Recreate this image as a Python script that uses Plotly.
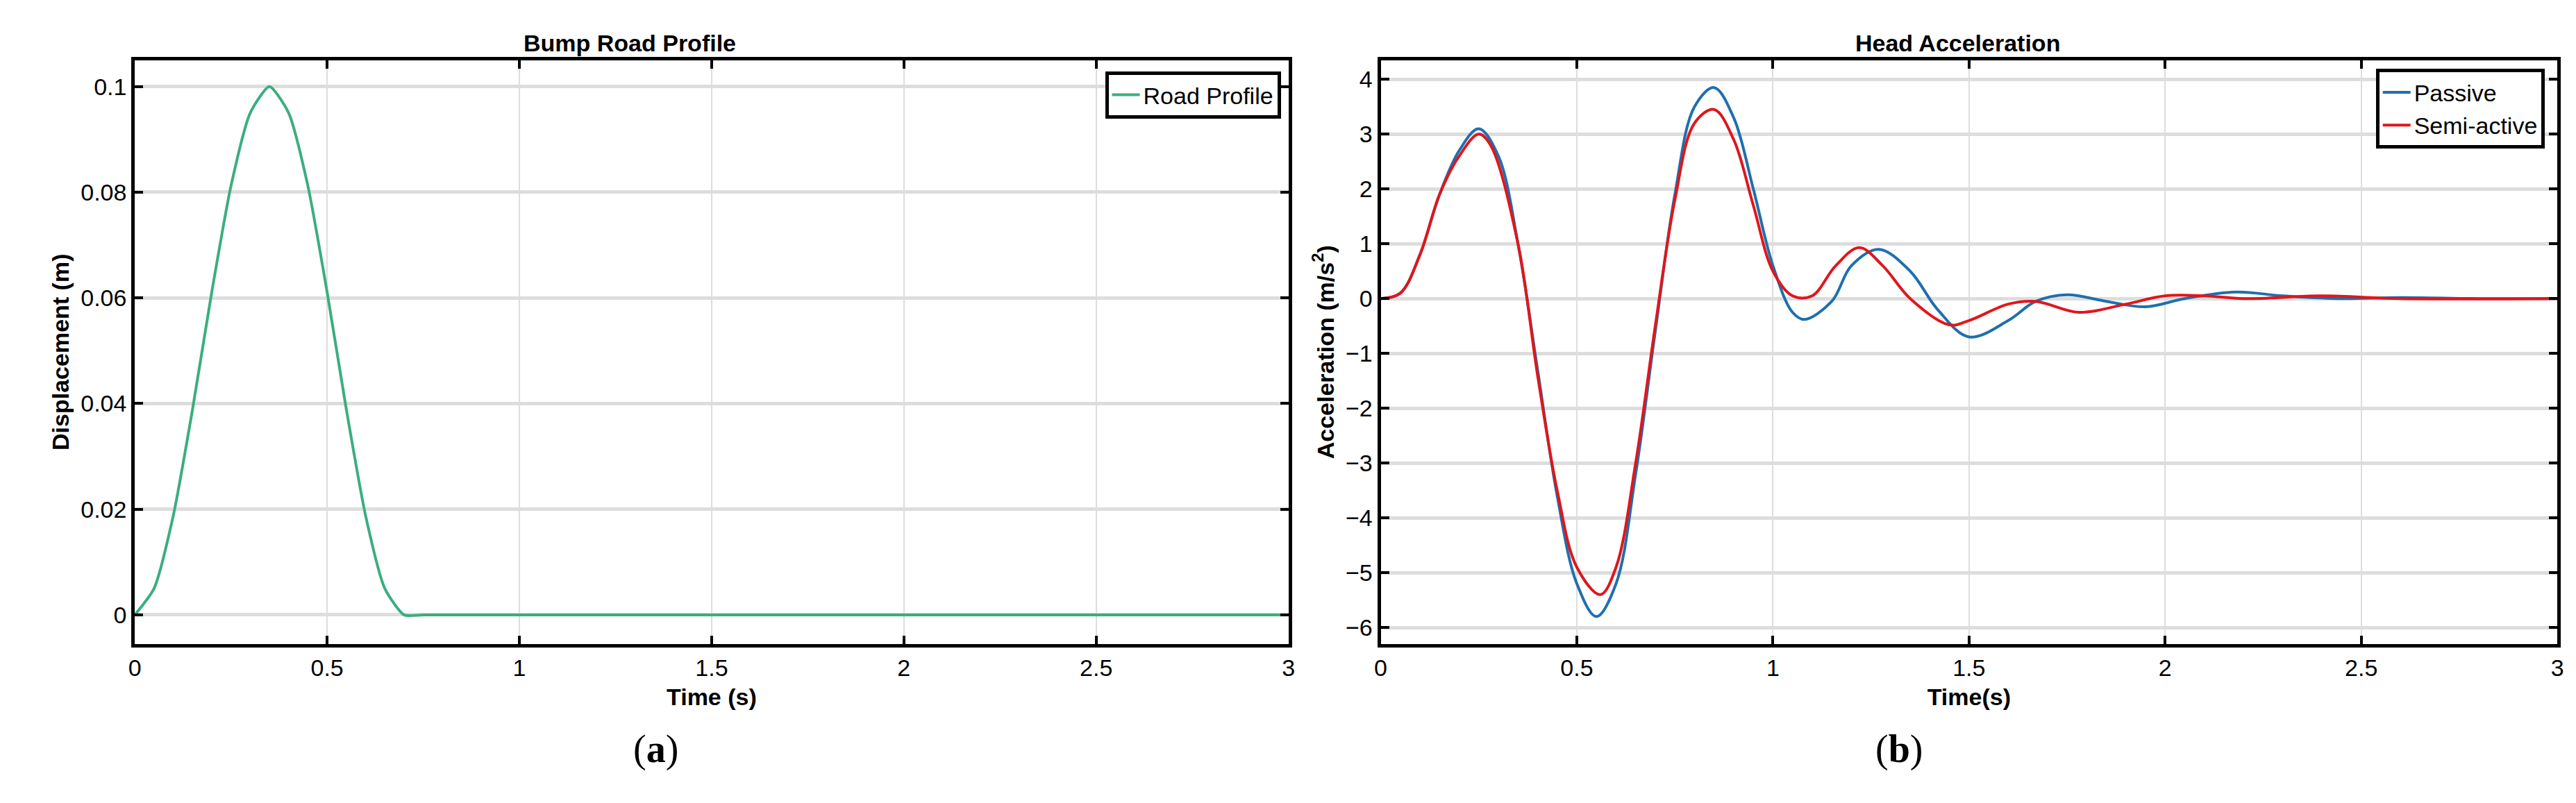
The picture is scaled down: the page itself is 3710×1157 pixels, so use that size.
import plotly.graph_objects as go
from plotly.subplots import make_subplots

# road profile
t_road = [0, 0.05, 0.1, 0.15, 0.2, 0.25, 0.3, 0.35, 0.4, 0.45, 0.5, 0.55, 0.6, 0.65, 0.7,
          0.75, 1.0, 1.5, 2.0, 2.5, 3.0]
road = [0, 0.005, 0.0188, 0.0389, 0.0611, 0.0812, 0.095, 0.1, 0.095, 0.0812, 0.0611, 0.0389,
        0.0188, 0.005, 0, 0, 0, 0, 0, 0, 0]

# head acceleration
t_pas = [0, 0.05, 0.1, 0.15, 0.2, 0.25, 0.3, 0.35, 0.4, 0.45, 0.5, 0.55, 0.6, 0.65, 0.7, 0.75,
         0.8, 0.85, 0.9, 0.95, 1.0, 1.05, 1.08, 1.15, 1.2, 1.27, 1.35, 1.42, 1.5, 1.6, 1.67,
         1.75, 1.85, 1.95, 2.05, 2.18, 2.3, 2.45, 2.6, 2.8, 3.0]
passive = [0, 0.1, 0.8, 1.9, 2.7, 3.1, 2.6, 1.0, -1.3, -3.6, -5.2, -5.8, -5.2, -3.2, -0.6, 1.9,
           3.5, 3.85, 3.3, 2.0, 0.6, -0.25, -0.38, -0.05, 0.6, 0.9, 0.5, -0.2, -0.7, -0.4, -0.05,
           0.07, -0.05, -0.15, 0.0, 0.12, 0.05, 0.0, 0.02, 0.0, 0.0]
t_semi = [0, 0.05, 0.1, 0.15, 0.2, 0.25, 0.28, 0.35, 0.4, 0.45, 0.5, 0.56, 0.6, 0.65, 0.7, 0.75,
          0.8, 0.85, 0.9, 0.95, 1.0, 1.05, 1.1, 1.16, 1.22, 1.28, 1.35, 1.45, 1.5, 1.6, 1.67,
          1.78, 1.9, 2.0, 2.1, 2.2, 2.4, 2.6, 3.0]
semi = [0, 0.1, 0.8, 1.9, 2.6, 3.0, 2.8, 1.0, -1.4, -3.5, -4.9, -5.4, -4.9, -3.0, -0.5, 1.8,
        3.2, 3.45, 2.9, 1.7, 0.5, 0.05, 0.05, 0.6, 0.93, 0.6, 0.0, -0.48, -0.4, -0.1, -0.05,
        -0.25, -0.1, 0.05, 0.05, 0.0, 0.05, 0.0, 0.0]

fig = make_subplots(rows=1, cols=2, horizontal_spacing=0.036,
                    subplot_titles=['Bump Road Profile', 'Head Acceleration'])

fig.add_trace(go.Scatter(x=t_road, y=road, mode='lines', name='Road Profile', showlegend=True,
                         line=dict(color='#3aae7f', width=4, shape='spline', smoothing=0.6),
                         legend='legend'), 1, 1)
fig.add_trace(go.Scatter(x=t_pas, y=passive, mode='lines', name='Passive', showlegend=True,
                         line=dict(color='#1f6fae', width=4, shape='spline'), legend='legend2'), 1, 2)
fig.add_trace(go.Scatter(x=t_semi, y=semi, mode='lines', name='Semi-active', showlegend=True,
                         line=dict(color='#e0161c', width=4, shape='spline'), legend='legend2'), 1, 2)

ax = dict(showline=True, linecolor='black', linewidth=5, mirror='ticks', ticks='inside',
          ticklen=12, tickwidth=4, tickcolor='black', showgrid=True, zeroline=False,
          tickfont=dict(size=34, family='Arial', color='black'))
fig.update_xaxes(**ax, gridcolor='#dddddd', gridwidth=2, range=[0, 3], dtick=0.5)
fig.update_yaxes(**ax, gridcolor='#dddddd', gridwidth=5)
fig.update_xaxes(domain=[0.048, 0.498], title_text='<b>Time (s)</b>', row=1, col=1)
fig.update_xaxes(domain=[0.534, 0.993], title_text='<b>Time(s)</b>', row=1, col=2)
fig.update_xaxes(title_font=dict(size=34, family='Arial', color='black'), title_standoff=14)
fig.update_yaxes(range=[-0.0055, 0.105], dtick=0.02, title_text='<b>Displacement (m)</b>', row=1, col=1)
fig.update_yaxes(range=[-6.3, 4.35], dtick=1, title_text='<b>Acceleration (m/s<sup>2</sup>)</b>', row=1, col=2)
fig.update_yaxes(title_font=dict(size=34, family='Arial', color='black'), title_standoff=8)
fig.update_yaxes(domain=[0.205, 0.932])

for a in fig.layout.annotations:
    a.font = dict(size=34, family='Arial', color='black')
    a.text = '<b>' + a.text + '</b>'
    a.y = 0.935

fig.add_annotation(text='(<b>a</b>)', x=0.242, y=0.045, xref='paper', yref='paper',
                   showarrow=False, font=dict(size=56, family='Liberation Serif', color='black'))
fig.add_annotation(text='(<b>b</b>)', x=0.746, y=0.045, xref='paper', yref='paper',
                   showarrow=False, font=dict(size=56, family='Liberation Serif', color='black'))

leg = dict(bgcolor='white', bordercolor='black', borderwidth=5, xanchor='right', yanchor='top',
           font=dict(size=34, family='Arial', color='black'), itemwidth=40)
fig.update_layout(
    width=3710, height=1157, plot_bgcolor='white', paper_bgcolor='white',
    margin=dict(l=0, r=0, t=0, b=0), showlegend=True,
    legend=dict(**leg, x=0.495, y=0.918),
    legend2=dict(**leg, x=0.988, y=0.921),
)
fig.write_html("out.html")
